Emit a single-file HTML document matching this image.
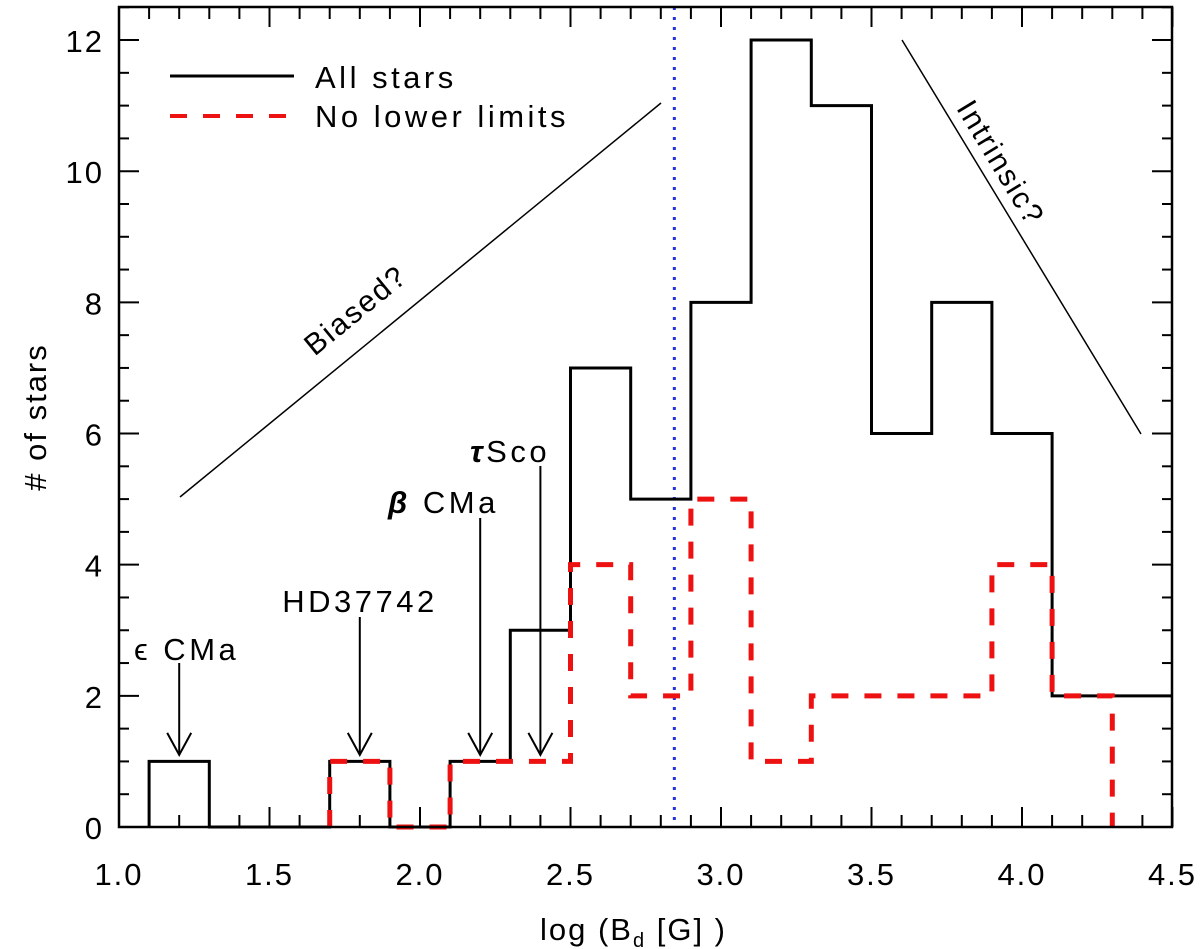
<!DOCTYPE html>
<html><head><meta charset="utf-8"><style>body{margin:0;background:#fff}svg{display:block}text{font-family:"Liberation Sans",sans-serif;fill:#000;letter-spacing:2px}.w{letter-spacing:3.5px}</style></head>
<body>
<svg id="chart" width="1200" height="949" viewBox="0 0 1200 949" xmlns="http://www.w3.org/2000/svg"></svg>
<script>
const binStart = 1.1, binWidth = 0.2;
const allStars = [1,0,0,1,0,1,3,7,5,8,12,11,6,8,6,2,2];
const noLowerStart = 1.7;
const noLower = [1,0,1,1,4,2,5,1,2,2,2,4,2];
const xTicks = ["1.0","1.5","2.0","2.5","3.0","3.5","4.0","4.5"];
const yTicks = ["0","2","4","6","8","10","12"];
const dividerX = 2.845;
const arrowX = [1.2,1.8,2.2,2.4];

const L=119,R=1172,T=7,B=827;
const X=v=>L+(v-1.0)*301;
const Y=v=>B-v*65.58;
const svg=document.getElementById('chart');
const NS='http://www.w3.org/2000/svg';
function mk(tag,attrs,name){const e=document.createElementNS(NS,tag);for(const k in attrs)e.setAttribute(k,attrs[k]);


svg.appendChild(e);return e;}

for(let i=0;i<=35;i++){const v=1+i*0.1,x=X(v),len=(i%5===0)?20:12;
 mk('line',{x1:x,y1:B,x2:x,y2:B-len,stroke:'#000','stroke-width':2},'x-tick');
 mk('line',{x1:x,y1:T,x2:x,y2:T+len,stroke:'#000','stroke-width':2},'x-tick-top');}
for(let i=0;i<=25;i++){const v=i*0.5,y=Y(v),len=(i%4===0)?20:10;if(y<T)continue;
 mk('line',{x1:L,y1:y,x2:L+len,y2:y,stroke:'#000','stroke-width':2},'y-tick');
 mk('line',{x1:R,y1:y,x2:R-len,y2:y,stroke:'#000','stroke-width':2},'y-tick-right');}
xTicks.forEach(t=>{const e=mk('text',{x:X(parseFloat(t)),y:885,'font-size':31,'text-anchor':'middle'},'x-tick-label');e.textContent=t;});
yTicks.forEach(t=>{const e=mk('text',{x:104,y:Y(parseFloat(t))+12,'font-size':31,'text-anchor':'end'},'y-tick-label');e.textContent=t;});

mk('line',{x1:X(dividerX),y1:T,x2:X(dividerX),y2:B,stroke:'#2233dd','stroke-width':3,'stroke-dasharray':'3 7'},'divider-line');

function stepPath(start,vals){let d=`M${X(start)},${Y(0)}`;vals.forEach((v,i)=>{const x0=X(start+i*binWidth),x1=X(start+(i+1)*binWidth);d+=` L${x0},${Y(v)} L${x1},${Y(v)}`;});return d;}
mk('path',{d:stepPath(binStart,allStars),fill:'none',stroke:'#000','stroke-width':3},'all-stars-histogram');
mk('path',{d:stepPath(noLowerStart,noLower)+` L${X(noLowerStart+noLower.length*binWidth)},${Y(0)}`,fill:'none',stroke:'#ee1111','stroke-width':5,'stroke-dasharray':'17 16'},'no-lower-limits-histogram');

const arrowTop=[663,617,518,466];
arrowX.forEach((a,i)=>{const x=X(a),yb=Y(1.1);
 mk('line',{x1:x,y1:arrowTop[i],x2:x,y2:yb,stroke:'#000','stroke-width':2},'arrow-line');
 mk('path',{d:`M${x-12},${yb-22} L${x},${yb} L${x+12},${yb-22}`,fill:'none',stroke:'#000','stroke-width':2},'arrow-head');});
let e=mk('text',{x:134,y:660,'font-size':31,class:'w'},'star-label');e.innerHTML='ϵ CMa';
e=mk('text',{x:360,y:612,'font-size':31,'text-anchor':'middle',class:'w'},'star-label');e.textContent='HD37742';
e=mk('text',{x:388,y:513,'font-size':31,class:'w'},'star-label');e.innerHTML='<tspan font-style="italic" font-weight="bold">β</tspan> CMa';
e=mk('text',{x:470,y:462,'font-size':31,class:'w'},'star-label');e.innerHTML='<tspan font-style="italic" font-weight="bold">τ</tspan>Sco';

mk('line',{x1:180,y1:497,x2:661,y2:103,stroke:'#000','stroke-width':1.5},'biased-line');
mk('line',{x1:902,y1:40,x2:1141,y2:434,stroke:'#000','stroke-width':1.5},'intrinsic-line');
e=mk('text',{x:0,y:0,'font-size':30,'text-anchor':'middle',transform:'translate(362,318) rotate(-39.3)'},'biased-label');e.textContent='Biased?';
e=mk('text',{x:0,y:0,'font-size':30,'text-anchor':'middle',transform:'translate(992,168) rotate(58.8)'},'intrinsic-label');e.textContent='Intrinsic?';

mk('line',{x1:170,y1:76,x2:294,y2:76,stroke:'#000','stroke-width':3},'legend-all-stars-line');
e=mk('text',{x:315,y:88,'font-size':31,class:'w'},'legend-all-stars-label');e.textContent='All stars';
mk('line',{x1:170,y1:116,x2:294,y2:116,stroke:'#ee1111','stroke-width':4,'stroke-dasharray':'17 16'},'legend-no-lower-line');
e=mk('text',{x:315,y:127,'font-size':31,class:'w'},'legend-no-lower-label');e.textContent='No lower limits';

mk('rect',{x:L,y:T,width:R-L,height:B-T,fill:'none',stroke:'#000','stroke-width':2.5},'plot-frame');

e=mk('text',{x:540,y:940,'font-size':31},'x-axis-title');
e.innerHTML='log (B<tspan font-size="20" dy="7">d</tspan><tspan dy="-7"> [G] )</tspan>';
e=mk('text',{x:0,y:0,'font-size':31,'text-anchor':'middle',transform:'translate(46,417) rotate(-90)'},'y-axis-title');e.textContent='# of stars';
</script>
</body></html>
